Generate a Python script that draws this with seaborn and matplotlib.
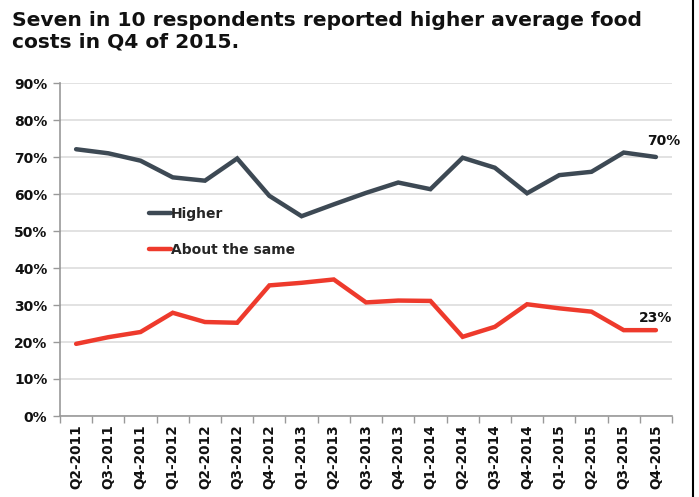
import matplotlib
matplotlib.use("Agg")
import matplotlib.pyplot as plt
import seaborn as sns
import pandas as pd
from matplotlib.lines import Line2D
from matplotlib.ticker import FixedLocator

quarters = ["Q2-2011", "Q3-2011", "Q4-2011", "Q1-2012", "Q2-2012", "Q3-2012",
            "Q4-2012", "Q1-2013", "Q2-2013", "Q3-2013", "Q4-2013", "Q1-2014",
            "Q2-2014", "Q3-2014", "Q4-2014", "Q1-2015", "Q2-2015", "Q3-2015",
            "Q4-2015"]
higher = [72.1, 71.0, 69.0, 64.5, 63.6, 69.6, 59.5, 54.0, 57.2, 60.3, 63.1,
          61.3, 69.8, 67.1, 60.2, 65.1, 66.0, 71.2, 70.0]
same = [19.5, 21.3, 22.7, 27.9, 25.4, 25.2, 35.3, 36.0, 36.9, 30.7, 31.2,
        31.1, 21.4, 24.1, 30.2, 29.1, 28.2, 23.2, 23.2]
series_names = ["Higher", "About the same"]
yticks = [0, 10, 20, 30, 40, 50, 60, 70, 80, 90]
title = "Seven in 10 respondents reported higher average food\ncosts in Q4 of 2015."

df = pd.DataFrame({
    "quarter": quarters * 2,
    "pos": list(range(len(quarters))) * 2,
    "value": higher + same,
    "series": [series_names[0]] * len(quarters) + [series_names[1]] * len(quarters),
})

sns.set_theme(style="white")
plt.rcParams["font.family"] = ["DejaVu Sans"]

fig = plt.figure(figsize=(6.99, 4.97), dpi=100)
ax = fig.add_axes([60 / 699, 1 - 416 / 497, 612 / 699, 333 / 497])

palette = {"Higher": "#3d4954", "About the same": "#ee3a2c"}
sns.lineplot(data=df, x="pos", y="value", hue="series", palette=palette,
             linewidth=3.2, ax=ax, legend=False, solid_joinstyle="miter")

ax.set_xlim(-0.5, len(quarters) - 0.5)
ax.set_ylim(0, 90)
ax.set_xlabel("")
ax.set_ylabel("")

ax.set_yticks(yticks)
ax.set_yticklabels([f"{v}%" for v in yticks], fontsize=10, fontweight="bold",
                   color="#111111")
ax.set_xticks(range(len(quarters)))
ax.set_xticklabels(quarters, rotation=90, fontsize=9.8, fontweight="bold",
                   color="#111111")
ax.xaxis.set_minor_locator(FixedLocator([i - 0.5 for i in range(len(quarters) + 1)]))
ax.tick_params(axis="x", which="major", length=0, pad=6)
ax.tick_params(axis="x", which="minor", length=5, color="#999999", width=1,
               direction="out", bottom=True)
ax.tick_params(axis="y", which="major", length=5, color="#999999", width=1,
               direction="out", left=True, pad=4)

ax.grid(axis="y", color="#dddddd", linewidth=1.2)
ax.set_axisbelow(True)
for s in ["top", "right"]:
    ax.spines[s].set_visible(False)
for s in ["left", "bottom"]:
    ax.spines[s].set_color("#999999")
    ax.spines[s].set_linewidth(1.2)

handles = [Line2D([0], [0], color=palette[n], linewidth=3.2) for n in series_names]
leg = ax.legend(handles, series_names, loc="upper left",
                bbox_to_anchor=(0.125, 0.665), frameon=False, handlelength=1.6,
                handletextpad=0.0, labelspacing=1.6, prop={"weight": "bold", "size": 10})

ax.annotate(f"{higher[-1]:.0f}%", xy=(len(quarters) - 1, higher[-1]),
            xytext=(-6, 9), textcoords="offset points", fontsize=10,
            fontweight="bold", color="#111111")
ax.annotate(f"{same[-1]:.0f}%", xy=(len(quarters) - 1, same[-1]),
            xytext=(-12, 6), textcoords="offset points", fontsize=10,
            fontweight="bold", color="#111111")

fig.text(12 / 699, 1 - 11 / 497, title, ha="left", va="top", fontsize=14.6,
         fontweight="bold", color="#111111", linespacing=1.2)

fig.add_artist(Line2D([693 / 699, 693 / 699], [0, 1], color="black",
                      linewidth=1.5, transform=fig.transFigure))

fig.savefig("out.png", dpi=100)
